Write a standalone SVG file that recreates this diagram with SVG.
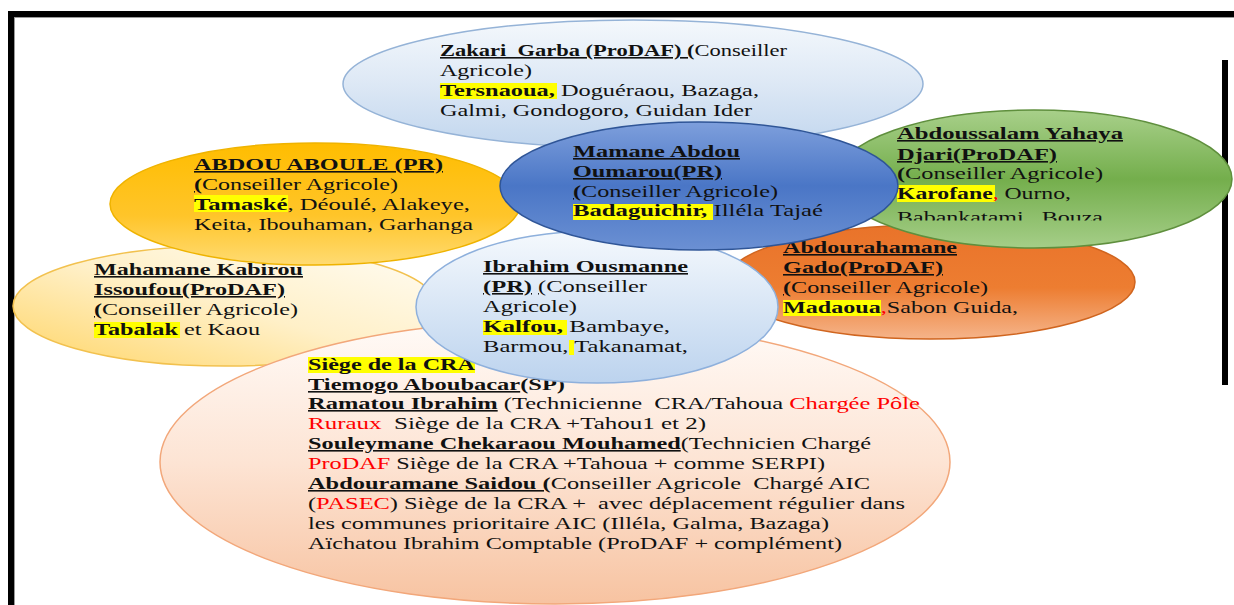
<svg xmlns="http://www.w3.org/2000/svg" width="1234" height="605" viewBox="0 0 1234 605">
<defs>
<style>
.t{font-family:"Liberation Serif","Times New Roman",serif;font-size:16px;fill:#111111}
.b{font-weight:bold}
.u{text-decoration:underline}
.r{fill:#ff0000}
.hl{fill:#ffff00}
</style>
<linearGradient id="gZak" x1="0" y1="0" x2="0" y2="1"><stop offset="0" stop-color="#f4f8fc"/><stop offset="0.5" stop-color="#dde8f5"/><stop offset="1" stop-color="#c1d6ee"/></linearGradient>
<linearGradient id="gAbd" x1="0" y1="0" x2="0" y2="1"><stop offset="0" stop-color="#ffbd00"/><stop offset="0.6" stop-color="#ffc52a"/><stop offset="1" stop-color="#ffdb72"/></linearGradient>
<linearGradient id="gMam" x1="0" y1="0" x2="0" y2="1"><stop offset="0" stop-color="#7e9fdc"/><stop offset="0.5" stop-color="#4a76c6"/><stop offset="1" stop-color="#6b90d3"/></linearGradient>
<linearGradient id="gGrn" x1="0" y1="0" x2="0" y2="1"><stop offset="0" stop-color="#a8d08a"/><stop offset="0.5" stop-color="#74ae4c"/><stop offset="1" stop-color="#a5ce88"/></linearGradient>
<linearGradient id="gOrg" x1="0" y1="0" x2="0" y2="1"><stop offset="0" stop-color="#e9732a"/><stop offset="0.55" stop-color="#ed7d31"/><stop offset="1" stop-color="#f5b48a"/></linearGradient>
<linearGradient id="gPal" x1="1" y1="0" x2="0" y2="1"><stop offset="0" stop-color="#fffdf6"/><stop offset="0.5" stop-color="#fff0c8"/><stop offset="1" stop-color="#ffd566"/></linearGradient>
<linearGradient id="gIbr" x1="0" y1="0" x2="0" y2="1"><stop offset="0" stop-color="#f5f9fd"/><stop offset="1" stop-color="#bcd3ee"/></linearGradient>
<linearGradient id="gPch" x1="0" y1="0" x2="0" y2="1"><stop offset="0" stop-color="#fffbf8"/><stop offset="0.5" stop-color="#fde4d4"/><stop offset="1" stop-color="#f7c3a1"/></linearGradient>
<clipPath id="clipBab"><rect x="880" y="200" width="260" height="20.5"/></clipPath>
</defs>
<rect x="0" y="0" width="1234" height="605" fill="#ffffff"/>
<g id="frame">
<rect x="8" y="11" width="1226" height="6" fill="#000000"/>
<rect x="8" y="11" width="6" height="594" fill="#000000"/>
<rect x="14" y="17" width="1220" height="1" fill="#9a9a9a"/>
<rect x="14" y="17" width="1" height="588" fill="#9a9a9a"/>
<rect x="1222" y="60" width="6" height="325" fill="#000000"/>
</g>

<g id="node-abdourahamane">
<ellipse cx="930" cy="282" rx="205" ry="57" fill="url(#gOrg)" stroke="#d0651f" stroke-width="1.5"/>
</g>
<g id="node-abdoussalam">
<ellipse cx="1034" cy="179" rx="198" ry="69" fill="url(#gGrn)" stroke="#5f8f3d" stroke-width="1.5"/>
<text class="t" x="897" y="139" textLength="226" lengthAdjust="spacingAndGlyphs"><tspan class="b u">Abdoussalam Yahaya</tspan></text>
<text class="t" x="897" y="160" textLength="160" lengthAdjust="spacingAndGlyphs"><tspan class="b u">Djari(ProDAF)</tspan></text>
<text class="t" x="897" y="179" textLength="206" lengthAdjust="spacingAndGlyphs"><tspan class="b u">(</tspan>Conseiller Agricole)</text>
<rect class="hl" x="897" y="185" width="98" height="17"/>
<text class="t" x="897" y="199" textLength="174" lengthAdjust="spacingAndGlyphs" xml:space="preserve"><tspan class="b">Karofane</tspan><tspan class="r">,</tspan> Ourno,</text>
<text class="t" x="897" y="223" textLength="206" lengthAdjust="spacingAndGlyphs" clip-path="url(#clipBab)">Babankatami , Bouza</text>
</g>
<g id="node-zakari">
<ellipse cx="633" cy="84" rx="290" ry="64" fill="url(#gZak)" stroke="#95b3d7" stroke-width="1.5"/>
<text class="t" x="440" y="56" textLength="347" lengthAdjust="spacingAndGlyphs" xml:space="preserve"><tspan class="b u">Zakari  Garba (ProDAF) (</tspan>Conseiller</text>
<text class="t" x="440" y="76" textLength="92" lengthAdjust="spacingAndGlyphs">Agricole)</text>
<rect class="hl" x="440" y="83" width="117" height="16"/>
<text class="t" x="440" y="96" textLength="319" lengthAdjust="spacingAndGlyphs" xml:space="preserve"><tspan class="b">Tersnaoua,</tspan> Doguéraou, Bazaga,</text>
<text class="t" x="440" y="116" textLength="312" lengthAdjust="spacingAndGlyphs">Galmi, Gondogoro, Guidan Ider</text>
</g>
<g id="node-mahamane">
<ellipse cx="225" cy="306" rx="212" ry="60" fill="url(#gPal)" stroke="#f2c14e" stroke-width="1.5"/>
<text class="t" x="94" y="275" textLength="209" lengthAdjust="spacingAndGlyphs"><tspan class="b u">Mahamane Kabirou</tspan></text>
<text class="t" x="94" y="295" textLength="191" lengthAdjust="spacingAndGlyphs"><tspan class="b u">Issoufou(ProDAF)</tspan></text>
<text class="t" x="94" y="315" textLength="204" lengthAdjust="spacingAndGlyphs"><tspan class="b u">(</tspan>Conseiller Agricole)</text>
<rect class="hl" x="94" y="322" width="86" height="16"/>
<text class="t" x="94" y="335" textLength="166" lengthAdjust="spacingAndGlyphs" xml:space="preserve"><tspan class="b">Tabalak</tspan> et Kaou</text>
</g>
<g id="node-abdou-aboule">
<ellipse cx="315" cy="204" rx="205" ry="61" fill="url(#gAbd)" stroke="#efb300" stroke-width="1.5"/>
<text class="t" x="194" y="170" textLength="249" lengthAdjust="spacingAndGlyphs"><tspan class="b u">ABDOU ABOULE (PR)</tspan></text>
<text class="t" x="194" y="190" textLength="204" lengthAdjust="spacingAndGlyphs"><tspan class="b u">(</tspan>Conseiller Agricole)</text>
<rect class="hl" x="194" y="195" width="94" height="17"/>
<text class="t" x="194" y="210" textLength="276" lengthAdjust="spacingAndGlyphs" xml:space="preserve"><tspan class="b">Tamaské</tspan>, Déoulé, Alakeye,</text>
<text class="t" x="194" y="230" textLength="279" lengthAdjust="spacingAndGlyphs">Keita, Ibouhaman, Garhanga</text>
</g>
<g id="node-siege">
<ellipse cx="555" cy="462" rx="395" ry="142" fill="url(#gPch)" stroke="#f2a77a" stroke-width="1.5"/>
<rect class="hl" x="308" y="357" width="167" height="16"/>
<text class="t" x="308" y="370" textLength="167" lengthAdjust="spacingAndGlyphs"><tspan class="b">Siège de la CRA</tspan></text>
<text class="t" x="308" y="390" textLength="257" lengthAdjust="spacingAndGlyphs"><tspan class="b u">Tiemogo Aboubacar</tspan><tspan class="b">(SP)</tspan></text>
<text class="t" x="308" y="409" textLength="612" lengthAdjust="spacingAndGlyphs" xml:space="preserve"><tspan class="b u">Ramatou Ibrahim</tspan> (Technicienne  CRA/Tahoua <tspan class="r">Chargée Pôle</tspan></text>
<text class="t" x="308" y="429" textLength="398" lengthAdjust="spacingAndGlyphs" xml:space="preserve"><tspan class="r">Ruraux</tspan>  Siège de la CRA +Tahou1 et 2)</text>
<text class="t" x="308" y="449" textLength="563" lengthAdjust="spacingAndGlyphs"><tspan class="b u">Souleymane Chekaraou Mouhamed</tspan>(Technicien Chargé</text>
<text class="t" x="308" y="469" textLength="517" lengthAdjust="spacingAndGlyphs" xml:space="preserve"><tspan class="r">ProDAF</tspan> Siège de la CRA +Tahoua + comme SERPI)</text>
<text class="t" x="308" y="489" textLength="562" lengthAdjust="spacingAndGlyphs" xml:space="preserve"><tspan class="b u">Abdouramane Saidou (</tspan>Conseiller Agricole  Chargé AIC</text>
<text class="t" x="308" y="509" textLength="597" lengthAdjust="spacingAndGlyphs" xml:space="preserve">(<tspan class="r">PASEC</tspan>) Siège de la CRA +  avec déplacement régulier dans</text>
<text class="t" x="308" y="529" textLength="521" lengthAdjust="spacingAndGlyphs">les communes prioritaire AIC (Illéla, Galma, Bazaga)</text>
<text class="t" x="308" y="549" textLength="534" lengthAdjust="spacingAndGlyphs">Aïchatou Ibrahim Comptable (ProDAF + complément)</text>
</g>
<g id="node-ibrahim">
<ellipse cx="597" cy="307" rx="181" ry="76" fill="url(#gIbr)" stroke="#8eb0dc" stroke-width="1.5"/>
<text class="t" x="483" y="272" textLength="205" lengthAdjust="spacingAndGlyphs"><tspan class="b u">Ibrahim Ousmanne</tspan></text>
<text class="t" x="483" y="292" textLength="164" lengthAdjust="spacingAndGlyphs" xml:space="preserve"><tspan class="b u">(PR)</tspan> <tspan class="u">(</tspan>Conseiller</text>
<text class="t" x="483" y="312" textLength="94" lengthAdjust="spacingAndGlyphs">Agricole)</text>
<rect class="hl" x="483" y="320" width="84" height="15"/>
<text class="t" x="483" y="332" textLength="187" lengthAdjust="spacingAndGlyphs" xml:space="preserve"><tspan class="b">Kalfou,</tspan> Bambaye,</text>
<rect class="hl" x="569" y="340" width="5" height="15"/>
<text class="t" x="483" y="352" textLength="205" lengthAdjust="spacingAndGlyphs" xml:space="preserve">Barmou, Takanamat,</text>
</g>
<g id="node-abdourahamane-text">
<text class="t" x="783" y="253" textLength="174" lengthAdjust="spacingAndGlyphs"><tspan class="b u">Abdourahamane</tspan></text>
<text class="t" x="783" y="273" textLength="160" lengthAdjust="spacingAndGlyphs"><tspan class="b u">Gado(ProDAF)</tspan></text>
<text class="t" x="783" y="293" textLength="205" lengthAdjust="spacingAndGlyphs"><tspan class="b u">(</tspan>Conseiller Agricole)</text>
<rect class="hl" x="783" y="300" width="98" height="16"/>
<text class="t" x="783" y="313" textLength="235" lengthAdjust="spacingAndGlyphs"><tspan class="b">Madaoua</tspan><tspan class="r">,</tspan>Sabon Guida,</text>
</g>
<g id="node-mamane">
<ellipse cx="699" cy="186" rx="199" ry="64" fill="url(#gMam)" stroke="#2f5597" stroke-width="1.5"/>
<text class="t" x="573" y="157" textLength="167" lengthAdjust="spacingAndGlyphs"><tspan class="b u">Mamane Abdou</tspan></text>
<text class="t" x="573" y="177" textLength="149" lengthAdjust="spacingAndGlyphs"><tspan class="b u">Oumarou(PR)</tspan></text>
<text class="t" x="573" y="197" textLength="205" lengthAdjust="spacingAndGlyphs"><tspan class="b u">(</tspan>Conseiller Agricole)</text>
<rect class="hl" x="573" y="204" width="140" height="16"/>
<text class="t" x="573" y="216" textLength="250" lengthAdjust="spacingAndGlyphs" xml:space="preserve"><tspan class="b">Badaguichir,</tspan> Illéla Tajaé</text>
</g>
<g id="connectors"/>
</svg>
